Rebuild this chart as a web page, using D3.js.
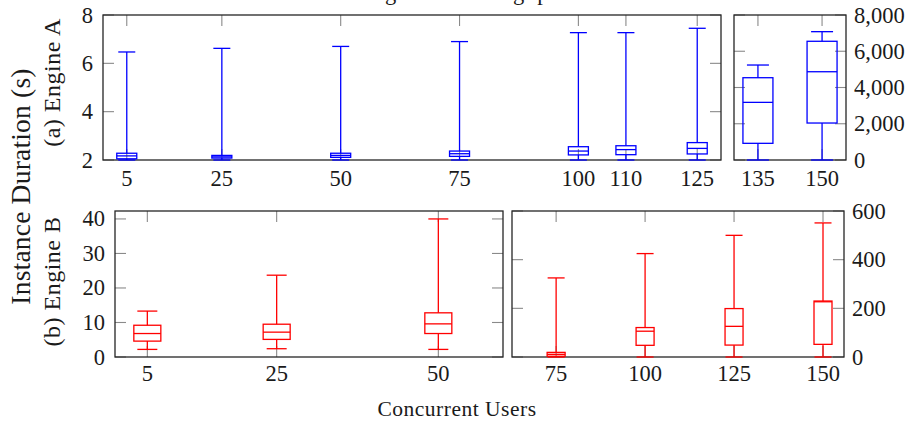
<!DOCTYPE html>
<html>
<head>
<meta charset="utf-8">
<script src="https://cdn.jsdelivr.net/npm/d3@7"></script>
<style>
  body { margin: 0; background: #fff; }
  svg text { font-family: "Liberation Serif", "DejaVu Serif", serif; fill: #1a1a1a; }
</style>
</head>
<body>
<div id="chart"></div>
<script>
// box values are [min, q1, median, q3, max]

// (a) Engine A, lower load
var usersA = [5, 25, 50, 75, 100, 110, 125];
var boxesA = [
  [2.0, 2.05, 2.17, 2.28, 6.47],
  [2.0, 2.08, 2.13, 2.19, 6.62],
  [2.0, 2.11, 2.19, 2.28, 6.70],
  [2.0, 2.15, 2.26, 2.37, 6.90],
  [2.0, 2.21, 2.37, 2.55, 7.27],
  [2.0, 2.22, 2.43, 2.59, 7.27],
  [2.0, 2.25, 2.48, 2.72, 7.45]
];

// (a) Engine A, high load
var usersAHigh = [135, 150];
var boxesAHigh = [
  [0, 920, 3180, 4540, 5240],
  [0, 2040, 4870, 6550, 7080]
];

// (b) Engine B, lower load
var usersB = [5, 25, 50];
var boxesB = [
  [2.2, 4.6, 6.8, 9.2, 13.3],
  [2.4, 5.1, 7.2, 9.5, 23.7],
  [2.2, 6.8, 9.6, 12.8, 40.0]
];

// (b) Engine B, high load
var usersBHigh = [75, 100, 125, 150];
var boxesBHigh = [
  [0, 3, 11, 19, 325],
  [0, 48, 106, 121, 425],
  [0, 49, 126, 199, 500],
  [0, 52, 227, 230, 551]
];

var ticksATop = [2, 4, 6, 8];
var ticksAHigh = [0, 2000, 4000, 6000, 8000];
var ticksB = [0, 10, 20, 30, 40];
var ticksBHigh = [0, 200, 400, 600];

var svgWidth = 912;
var svgHeight = 423;

var svg = d3.select("#chart")
  .append("svg")
  .attr("width", svgWidth)
  .attr("height", svgHeight);

var blue = "#0000ff";
var red = "#ff0000";
var tickLen = 11;

// panel layout (frames in pixels)
var panels = [
  { users: usersA, boxes: boxesA, yTicks: ticksATop, x0: 103, x1: 721, y0: 15, y1: 160,
    xDomain: [0, 130], yDomain: [2, 8], side: "left", boxW: 20, capW: 17, color: blue, labelY: 186 },
  { users: usersAHigh, boxes: boxesAHigh, yTicks: ticksAHigh, x0: 734, x1: 846, y0: 15, y1: 160,
    xDomain: [129.4, 155.6], yDomain: [0, 8000], side: "right", boxW: 30, capW: 22, color: blue, labelY: 186 },
  { users: usersB, boxes: boxesB, yTicks: ticksB, x0: 115, x1: 503, y0: 211, y1: 357,
    xDomain: [0, 60], yDomain: [0, 42.3], side: "left", boxW: 27, capW: 20, color: red, labelY: 381 },
  { users: usersBHigh, boxes: boxesBHigh, yTicks: ticksBHigh, x0: 512, x1: 844, y0: 211, y1: 357,
    xDomain: [62.6, 155.9], yDomain: [0, 600], side: "right", boxW: 18, capW: 17, color: red, labelY: 381 }
];

var fmt = d3.format(",");

panels.forEach(function(p) {
  var x = d3.scaleLinear().domain(p.xDomain).range([p.x0, p.x1]);
  var y = d3.scaleLinear().domain(p.yDomain).range([p.y1, p.y0]);
  var g = svg.append("g");

  // inner ticks on all four sides
  var ticks = g.append("g")
    .attr("stroke", "#8a8a8a")
    .attr("stroke-width", 1.1);

  p.users.forEach(function(u) {
    ticks.append("line")
      .attr("x1", x(u)).attr("x2", x(u))
      .attr("y1", p.y1).attr("y2", p.y1 - tickLen);
    ticks.append("line")
      .attr("x1", x(u)).attr("x2", x(u))
      .attr("y1", p.y0).attr("y2", p.y0 + tickLen);
  });
  p.yTicks.forEach(function(t) {
    ticks.append("line")
      .attr("x1", p.x0).attr("x2", p.x0 + tickLen)
      .attr("y1", y(t)).attr("y2", y(t));
    ticks.append("line")
      .attr("x1", p.x1).attr("x2", p.x1 - tickLen)
      .attr("y1", y(t)).attr("y2", y(t));
  });

  // frame
  g.append("rect")
    .attr("x", p.x0)
    .attr("y", p.y0)
    .attr("width", p.x1 - p.x0)
    .attr("height", p.y1 - p.y0)
    .attr("fill", "none")
    .attr("stroke", "#262626")
    .attr("stroke-width", 1.3);

  // x tick labels
  g.selectAll(".xlab")
    .data(p.users)
    .enter()
    .append("text")
    .attr("x", d => x(d))
    .attr("y", p.labelY)
    .attr("text-anchor", "middle")
    .attr("font-size", 22.5)
    .text(d => d);

  // y tick labels
  g.selectAll(".ylab")
    .data(p.yTicks)
    .enter()
    .append("text")
    .attr("x", p.side === "left" ? p.x0 - 10 : p.x1 + 8)
    .attr("y", d => y(d) + 7.5)
    .attr("text-anchor", p.side === "left" ? "end" : "start")
    .attr("font-size", 22.5)
    .text(d => fmt(d));

  // box plots
  var boxes = g.selectAll(".box")
    .data(p.boxes)
    .enter()
    .append("g")
    .attr("fill", "none")
    .attr("stroke", p.color)
    .attr("stroke-width", 1.3);

  boxes.each(function(b, i) {
    var cx = x(p.users[i]);
    var sel = d3.select(this);
    // whiskers
    sel.append("line").attr("x1", cx).attr("x2", cx).attr("y1", y(b[0])).attr("y2", y(b[1]));
    sel.append("line").attr("x1", cx).attr("x2", cx).attr("y1", y(b[3])).attr("y2", y(b[4]));
    sel.append("line").attr("x1", cx - p.capW / 2).attr("x2", cx + p.capW / 2).attr("y1", y(b[0])).attr("y2", y(b[0]));
    sel.append("line").attr("x1", cx - p.capW / 2).attr("x2", cx + p.capW / 2).attr("y1", y(b[4])).attr("y2", y(b[4]));
    // box and median
    sel.append("rect")
      .attr("x", cx - p.boxW / 2)
      .attr("y", y(b[3]))
      .attr("width", p.boxW)
      .attr("height", y(b[1]) - y(b[3]));
    sel.append("line").attr("x1", cx - p.boxW / 2).attr("x2", cx + p.boxW / 2).attr("y1", y(b[2])).attr("y2", y(b[2]));
  });
});

// axis titles
svg.append("text")
  .attr("x", 457)
  .attr("y", 415.5)
  .attr("text-anchor", "middle")
  .attr("font-size", 21.5)
  .attr("letter-spacing", 0.5)
  .text("Concurrent Users");

svg.append("text")
  .attr("transform", "translate(30, 186.5) rotate(-90)")
  .attr("text-anchor", "middle")
  .attr("font-size", 27.5)
  .attr("letter-spacing", 0.2)
  .text("Instance Duration (s)");

svg.append("text")
  .attr("transform", "translate(59.5, 82.5) rotate(-90)")
  .attr("text-anchor", "middle")
  .attr("font-size", 24)
  .attr("letter-spacing", 0.5)
  .text("(a) Engine A");

svg.append("text")
  .attr("transform", "translate(59.5, 281.5) rotate(-90)")
  .attr("text-anchor", "middle")
  .attr("font-size", 24)
  .attr("letter-spacing", 0.5)
  .text("(b) Engine B");

// title sits above the page, only its descenders show
var title = svg.append("text")
  .attr("x", 0)
  .attr("y", 0)
  .attr("font-size", 22.5)
  .text("Scaling with Throughput");
var tn = title.node();
var gap = tn.getStartPositionOfChar(18).x - tn.getStartPositionOfChar(6).x;
title.attr("letter-spacing", (128 - gap) / 12);
title.attr("x", 385 - tn.getStartPositionOfChar(6).x);
</script>
</body>
</html>
